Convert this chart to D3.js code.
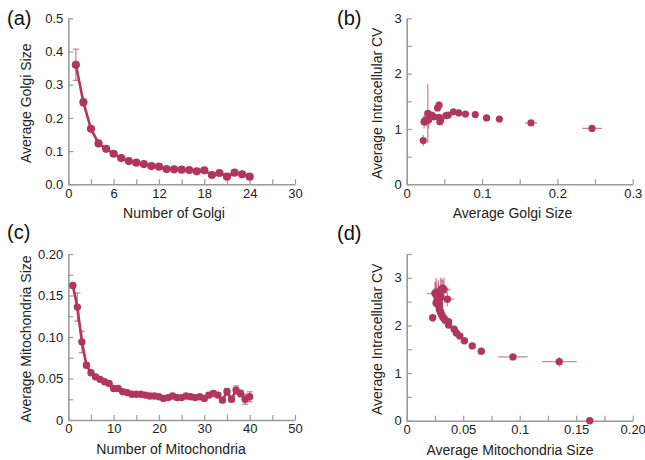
<!DOCTYPE html>
<html>
<head>
<meta charset="utf-8">
<script src="https://cdn.jsdelivr.net/npm/d3@7"></script>
<style>
  html, body { margin: 0; padding: 0; background: #fff; }
  svg { display: block; font-family: "Liberation Sans", Arial, Helvetica, sans-serif; }
</style>
</head>
<body>
<svg id="chart" width="645" height="460"></svg>
<script>
// ---------- DATA ----------
// (a) Golgi number vs average size
const golgiN = [1,2,3,4,5,6,7,8,9,10,11,12,13,14,15,16,17,18,19,20,21,22,23,24];
const golgiSize = [0.360,0.247,0.167,0.123,0.107,0.092,0.079,0.070,0.065,0.061,0.055,0.053,0.046,0.045,0.044,0.043,0.039,0.042,0.028,0.034,0.023,0.035,0.030,0.023];
const golgiSizeErr = [0.047,0.010,0.005,0.004,0.003,0.003,0.003,0.002,0.002,0.002,0.002,0.002,0.002,0.002,0.002,0.002,0.002,0.002,0.002,0.002,0.002,0.002,0.002,0.002];

// (b) Golgi size vs intracellular CV
const golgiCVSize = [0.246,0.165,0.123,0.106,0.091,0.078,0.069,0.062,0.055,0.052,0.044,0.043,0.043,0.041,0.036,0.033,0.029,0.028,0.026,0.024,0.023,0.022,0.045];
const golgiCV     = [1.01,1.11,1.18,1.20,1.26,1.27,1.29,1.31,1.25,1.24,1.13,1.21,1.43,1.38,1.22,1.25,1.16,1.28,1.15,1.15,1.13,0.79,1.16];
const golgiCVSizeErr = [0.013,0.008,0.002,0.002,0.002,0.002,0.002,0.002,0.002,0.002,0.002,0.002,0.002,0.002,0.002,0.002,0.002,0.002,0.002,0.002,0.002,0.002,0.002];
const golgiCVErr  = [0.03,0.03,0.03,0.03,0.03,0.03,0.03,0.03,0.03,0.03,0.06,0.06,0.07,0.06,0.05,0.05,0.15,0.53,0.10,0.10,0.12,0.10,0.06];

// (c) Mitochondria number vs average size
const mitoN = [1,2,3,4,5,6,7,8,9,10,11,12,13,14,15,16,17,18,19,20,21,22,23,24,25,26,27,28,29,30,31,32,33,34,35,36,37,38,39,40];
const mitoSize = [0.162,0.136,0.094,0.066,0.057,0.052,0.049,0.046,0.044,0.038,0.038,0.034,0.033,0.031,0.031,0.031,0.030,0.029,0.029,0.028,0.026,0.027,0.029,0.027,0.027,0.029,0.028,0.027,0.028,0.026,0.030,0.032,0.030,0.024,0.034,0.025,0.036,0.032,0.025,0.028];
const mitoSizeErr = [0.003,0.017,0.013,0.003,0.003,0.002,0.002,0.002,0.002,0.002,0.002,0.002,0.002,0.002,0.002,0.002,0.002,0.002,0.002,0.002,0.002,0.002,0.002,0.002,0.002,0.002,0.002,0.002,0.002,0.002,0.003,0.003,0.003,0.003,0.004,0.003,0.005,0.004,0.006,0.006];

// (d) Mitochondria size vs intracellular CV
const mitoCVSize = [0.162,0.135,0.094,0.066,0.058,0.051,0.047,0.044,0.042,0.037,0.037,0.034,0.033,0.032,0.031,0.030,0.030,0.029,0.029,0.028,0.027,0.027,0.029,0.027,0.026,0.029,0.028,0.027,0.028,0.026,0.030,0.031,0.030,0.023,0.032,0.025,0.036,0.033,0.026,0.029];
const mitoCV     = [0.00,1.24,1.34,1.46,1.57,1.68,1.78,1.84,1.92,2.01,2.08,2.11,2.15,2.17,2.22,2.27,2.29,2.33,2.39,2.43,2.46,2.50,2.55,2.58,2.47,2.62,2.66,2.52,2.70,2.65,2.72,2.76,2.60,2.16,2.78,2.67,2.55,2.75,2.70,2.45];
const mitoCVSizeErr = [0.000,0.0155,0.013,0.002,0.002,0.002,0.002,0.002,0.002,0.002,0.002,0.002,0.002,0.002,0.002,0.002,0.002,0.002,0.002,0.002,0.002,0.002,0.002,0.002,0.002,0.003,0.003,0.002,0.003,0.003,0.004,0.004,0.003,0.002,0.005,0.007,0.006,0.006,0.004,0.003];
const mitoCVErr  = [0.00,0.10,0.05,0.03,0.03,0.03,0.03,0.03,0.03,0.04,0.04,0.04,0.04,0.05,0.05,0.05,0.06,0.06,0.08,0.08,0.10,0.12,0.15,0.15,0.12,0.20,0.20,0.15,0.25,0.25,0.28,0.22,0.20,0.08,0.18,0.25,0.15,0.25,0.30,0.20];

// ---------- TICKS ----------
const aXTicks = [0,3,6,9,12,15,18,21,24,27,30];
const aXLabels = ["0","","6","","12","","18","","24","","30"];
const aYTicks = [0,0.1,0.2,0.3,0.4,0.5];
const aYLabels = ["0.0","0.1","0.2","0.3","0.4","0.5"];

const bXTicks = [0,0.05,0.1,0.15,0.2,0.25,0.3];
const bXLabels = ["0","","0.1","","0.2","","0.3"];
const bYTicks = [0,0.5,1,1.5,2,2.5,3];
const bYLabels = ["0","","1","","2","","3"];

const cXTicks = [0,5,10,15,20,25,30,35,40,45,50];
const cXLabels = ["0","","10","","20","","30","","40","","50"];
const cYTicks = [0,0.025,0.05,0.075,0.1,0.125,0.15,0.175,0.2];
const cYLabels = ["0","","0.05","","0.10","","0.15","","0.20"];

const dXTicks = [0,0.025,0.05,0.075,0.1,0.125,0.15,0.175,0.2];
const dXLabels = ["0","","0.05","","0.1","","0.15","","0.20"];
const dYTicks = [0,0.5,1,1.5,2,2.5,3,3.5];
const dYLabels = ["0","","1","","2","","3",""];

// ---------- STYLE ----------
const MAIN = "#b1365f";
const AXIS = "#9a9a9a";

const svg = d3.select("#chart");

function panel(opt) {
  const x = d3.scaleLinear().domain(opt.xDomain).range([opt.left, opt.right]);
  const y = d3.scaleLinear().domain(opt.yDomain).range([opt.bottom, opt.top]);
  const g = svg.append("g");

  const xAxis = d3.axisBottom(x).tickValues(opt.xTicks).tickSizeInner(-5).tickSizeOuter(0)
    .tickFormat((d, i) => opt.xLabels[i]);
  const yAxis = d3.axisLeft(y).tickValues(opt.yTicks).tickSizeInner(-5).tickSizeOuter(0)
    .tickFormat((d, i) => opt.yLabels[i]).tickPadding(5);

  const gx = g.append("g").attr("transform", `translate(0,${opt.bottom})`).call(xAxis);
  const gy = g.append("g").attr("transform", `translate(${opt.left},0)`).call(yAxis);
  [gx, gy].forEach(a => {
    a.select(".domain").attr("stroke", AXIS).attr("stroke-width", 1.6);
    a.selectAll(".tick line").attr("stroke", AXIS).attr("stroke-width", 1.2);
    a.selectAll(".tick text").attr("fill", "#222").attr("font-size", 13)
      .attr("font-family", "'Liberation Sans', Arial, sans-serif");
  });
  gx.selectAll(".tick text").attr("dy", "0.71em").attr("y", 4);
  gy.selectAll(".tick text").attr("x", -5);

  const pts = opt.xs.map((v, i) => ({x: v, y: opt.ys[i], ex: opt.exs ? opt.exs[i] : 0, ey: opt.eys ? opt.eys[i] : 0}));
  const data = g.append("g");

  const eb = data.append("g").attr("stroke", MAIN).attr("stroke-opacity", 0.6).attr("stroke-width", 1.3).attr("fill", "none");
  pts.forEach(p => {
    if (p.ey > 0) {
      eb.append("line").attr("x1", x(p.x)).attr("x2", x(p.x)).attr("y1", y(p.y - p.ey)).attr("y2", y(p.y + p.ey));
      if (opt.caps) {
        [p.y - p.ey, p.y + p.ey].forEach(v => eb.append("line")
          .attr("x1", x(p.x) - 3).attr("x2", x(p.x) + 3).attr("y1", y(v)).attr("y2", y(v)));
      }
    }
    if (p.ex > 0) {
      eb.append("line").attr("y1", y(p.y)).attr("y2", y(p.y)).attr("x1", x(p.x - p.ex)).attr("x2", x(p.x + p.ex));
    }
  });

  if (opt.line) {
    data.append("path").datum(pts)
      .attr("d", d3.line().x(d => x(d.x)).y(d => y(d.y)))
      .attr("fill", "none").attr("stroke", MAIN).attr("stroke-width", 2.6).attr("stroke-linejoin", "round");
  }

  data.selectAll("circle").data(pts.filter(p => p.x <= opt.xDomain[1]))
    .join("circle").attr("cx", d => x(d.x)).attr("cy", d => y(d.y)).attr("r", opt.r)
    .attr("fill", MAIN);

  g.append("text").attr("x", opt.xTitleX).attr("y", opt.bottom + 34)
    .attr("text-anchor", "middle").attr("font-size", 14).attr("fill", "#222").text(opt.xTitle);
  g.append("text").attr("transform", `translate(${opt.yTitleX},${(opt.top + opt.bottom) / 2 + 2}) rotate(-90)`)
    .attr("text-anchor", "middle").attr("font-size", 14).attr("fill", "#222").text(opt.yTitle);
  g.append("text").attr("x", opt.labelX).attr("y", opt.labelY)
    .attr("font-size", 20).attr("fill", "#111").text(opt.label);
}

panel({
  xDomain: [0, 30], yDomain: [0, 0.5], left: 68.3, right: 295, top: 18.3, bottom: 184.3,
  xTicks: aXTicks, xLabels: aXLabels, yTicks: aYTicks, yLabels: aYLabels,
  xs: golgiN, ys: golgiSize, eys: golgiSizeErr, caps: true, line: true, r: 4.1,
  xTitle: "Number of Golgi", yTitle: "Average Golgi Size", xTitleX: 174, yTitleX: 31,
  label: "(a)", labelX: 7, labelY: 25
});
panel({
  xDomain: [0, 0.3], yDomain: [0, 3], left: 406.7, right: 632.7, top: 18.3, bottom: 184.3,
  xTicks: bXTicks, xLabels: bXLabels, yTicks: bYTicks, yLabels: bYLabels,
  xs: golgiCVSize, ys: golgiCV, exs: golgiCVSizeErr, eys: golgiCVErr, caps: false, line: false, r: 3.6,
  xTitle: "Average Golgi Size", yTitle: "Average Intracellular CV", xTitleX: 512.5, yTitleX: 382,
  label: "(b)", labelX: 337, labelY: 25
});
panel({
  xDomain: [0, 50], yDomain: [0, 0.2], left: 68.3, right: 295, top: 254, bottom: 420,
  xTicks: cXTicks, xLabels: cXLabels, yTicks: cYTicks, yLabels: cYLabels,
  xs: mitoN, ys: mitoSize, eys: mitoSizeErr, caps: true, line: true, r: 3.7,
  xTitle: "Number of Mitochondria", yTitle: "Average Mitochondria Size", xTitleX: 171, yTitleX: 31,
  label: "(c)", labelX: 7, labelY: 239
});
panel({
  xDomain: [0, 0.2], yDomain: [0, 3.5], left: 406.7, right: 632.7, top: 254, bottom: 420.7,
  xTicks: dXTicks, xLabels: dXLabels, yTicks: dYTicks, yLabels: dYLabels,
  xs: mitoCVSize, ys: mitoCV, exs: mitoCVSizeErr, eys: mitoCVErr, caps: false, line: false, r: 3.7,
  xTitle: "Average Mitochondria Size", yTitle: "Average Intracellular CV", xTitleX: 510, yTitleX: 382,
  label: "(d)", labelX: 337, labelY: 240
});
</script>
</body>
</html>
